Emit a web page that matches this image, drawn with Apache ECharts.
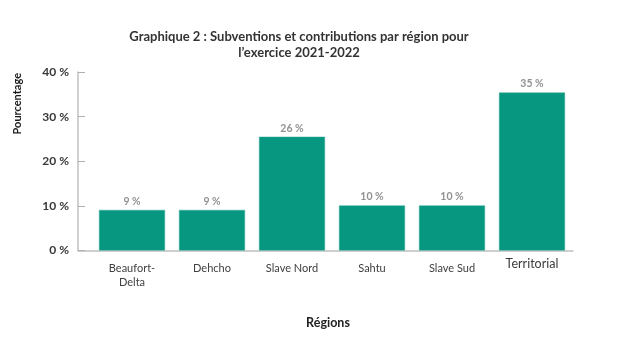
<!DOCTYPE html>
<html>
<head>
<meta charset="utf-8">
<script src="https://cdn.jsdelivr.net/npm/echarts@6/dist/echarts.min.js"></script>
<style>
html,body{margin:0;padding:0;background:#fff;}
#chart{width:620px;height:342px;}
</style>
</head>
<body>
<div id="chart"></div>
<script>
var categories = ['Beaufort-\nDelta', 'Dehcho', 'Slave Nord', 'Sahtu', 'Slave Sud', 'Territorial'];
var values = [9.1, 9.1, 25.5, 10.1, 10.1, 35.4];
var yTicks = [0, 10, 20, 30, 40];
var titleText = 'Graphique 2 : Subventions et contributions par région pour\nl\u2019exercice 2021-2022';
var yName = 'Pourcentage';
var xName = 'Régions';

var FONT = 'Lato';
var chart = echarts.init(document.getElementById('chart'), null, {renderer: 'canvas'});

var catData = categories.map(function (c) {
  if (c === 'Territorial') {
    return {value: c, textStyle: {fontSize: 12.5, color: '#3a3a3a', lineHeight: 4}};
  }
  return c;
});

chart.setOption({
  animation: false,
  backgroundColor: '#ffffff',
  title: {
    text: titleText,
    left: 294,
    top: 24,
    textAlign: 'center',
    textStyle: {fontFamily: FONT, fontWeight: 'bold', fontSize: 13, color: '#333333', lineHeight: 16}
  },
  graphic: [{
    type: 'text',
    left: 12,
    top: 73,
    rotation: Math.PI / 2,
    style: {text: yName, fontFamily: FONT, fontWeight: 'bold', fontSize: 11, fill: '#1a1a1a'}
  }],
  grid: [
    {left: 92, right: 48, top: 72, bottom: 91.5, containLabel: false},
    {left: 78, right: 47, top: 72, bottom: 91.5, containLabel: false}
  ],
  xAxis: [{
    type: 'category',
    gridIndex: 0,
    data: catData,
    axisLine: {show: false},
    axisTick: {show: false},
    axisLabel: {margin: 11, fontFamily: FONT, fontSize: 11, color: '#404040', lineHeight: 14, interval: 0},
    name: xName,
    nameLocation: 'middle',
    nameGap: 66,
    nameTextStyle: {fontFamily: FONT, fontWeight: 'bold', fontSize: 12.5, color: '#222222', padding: [0, 8, 0, 0]}
  }, {
    type: 'category',
    gridIndex: 1,
    data: [''],
    axisLine: {show: true, lineStyle: {color: '#c0c0c0', width: 1.5}},
    axisTick: {show: false},
    axisLabel: {show: false}
  }],
  yAxis: [{
    type: 'value',
    gridIndex: 0,
    min: yTicks[0],
    max: yTicks[yTicks.length - 1],
    interval: 10,
    offset: 14,
    axisLine: {show: true, lineStyle: {color: '#c0c0c0', width: 1.5}},
    axisTick: {show: true, inside: true, length: 7, lineStyle: {color: '#b0b0b0', width: 1}},
    splitLine: {show: false},
    axisLabel: {
      margin: 9,
      fontFamily: FONT,
      fontWeight: 'bold',
      fontSize: 12,
      color: '#383838',
      formatter: function (v) { return v + ' %'; }
    }
  }, {
    type: 'value',
    gridIndex: 1,
    min: 0,
    max: 40,
    show: false
  }],
  series: [{
    type: 'bar',
    xAxisIndex: 0,
    yAxisIndex: 0,
    data: values,
    barCategoryGap: '17.5%',
    itemStyle: {color: '#07967f', borderColor: '#3aae9b', borderWidth: 0.5},
    label: {
      show: true,
      position: 'top',
      distance: 3,
      fontFamily: FONT,
      fontWeight: 'bold',
      fontSize: 10.5,
      color: '#929292',
      formatter: function (p) { return Math.round(p.value) + ' %'; }
    }
  }]
});
</script>
</body>
</html>
